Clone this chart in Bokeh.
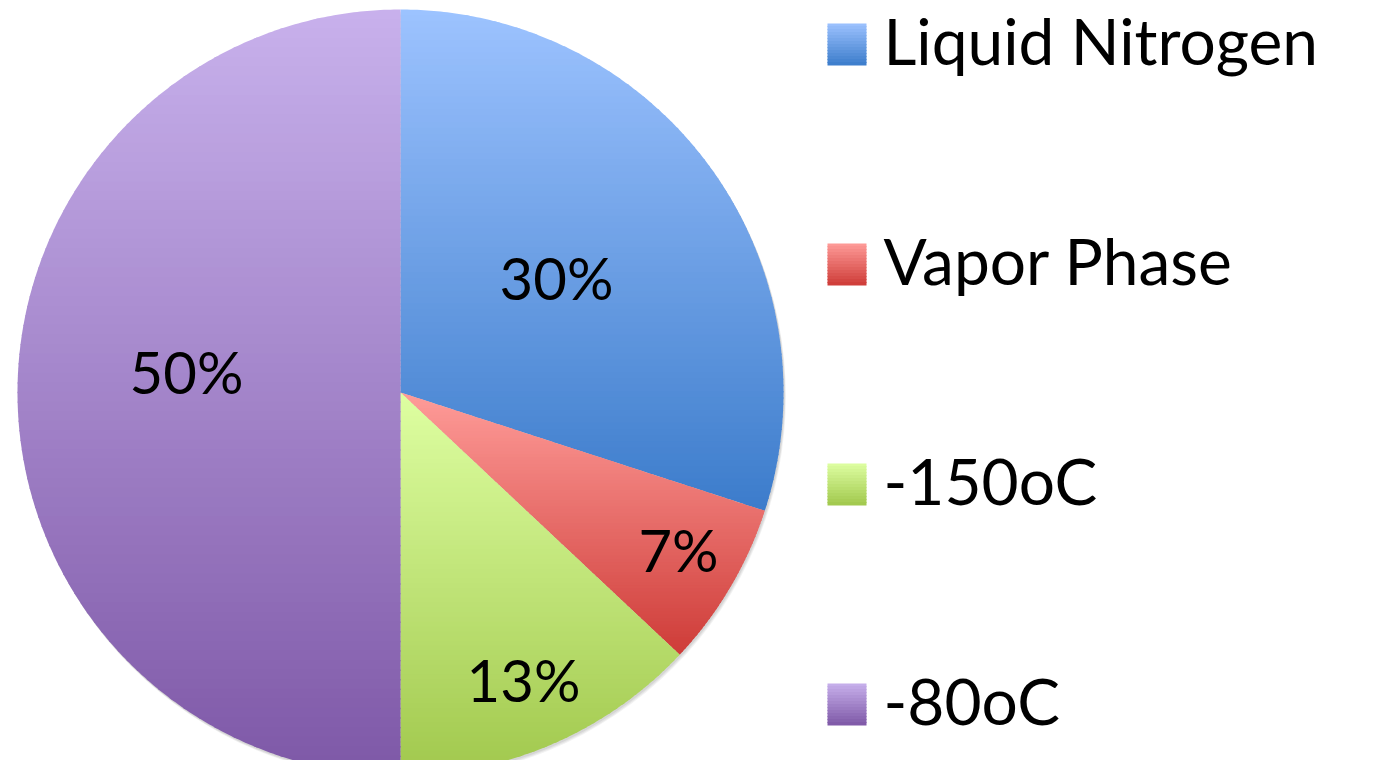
import math
from bokeh.plotting import figure
from bokeh.models import Range1d
from bokeh.core.properties import value
from bokeh.embed import file_html
from bokeh.resources import INLINE

# ---- data ----
categories = ["Liquid Nitrogen", "Vapor Phase", "-150oC", "-80oC"]
shares = [30, 7, 13, 50]
top_colors = ["#9DC3FF", "#FF9C99", "#DEFFA2", "#C8B1EC"]
bottom_colors = ["#3C7CCB", "#CE3C38", "#A1C84D", "#7E58A7"]

# ---- layout (reference pixel space, y downwards) ----
CX, CY, R = 400.0, 392.0, 383.0
FONT = "Lato"
LABEL_PX = 58
LEGEND_PX = 64
label_pos = [(556, 301), (678, 573), (523, 703), (186, 395)]
leg_x0, leg_x1 = 827, 866
leg_tops = [23, 243, 463, 683]
leg_h = 42
leg_text_x = 883
BASE_SHIFT = 0.41  # svg alphabetic baseline correction, in em
NB = 80


def hex2rgb(h):
    h = h.lstrip("#")
    return tuple(int(h[i:i + 2], 16) for i in (0, 2, 4))


def mix(c0, c1, t):
    a, b = hex2rgb(c0), hex2rgb(c1)
    return "#%02x%02x%02x" % tuple(int(round(a[i] + (b[i] - a[i]) * t)) for i in range(3))


def clip_half(poly, yv, keep_above):
    out = []
    n = len(poly)
    for i in range(n):
        p, q = poly[i], poly[(i + 1) % n]
        ip = (p[1] >= yv) if keep_above else (p[1] <= yv)
        iq = (q[1] >= yv) if keep_above else (q[1] <= yv)
        if ip:
            out.append(p)
        if ip != iq:
            t = (yv - p[1]) / (q[1] - p[1])
            out.append((p[0] + t * (q[0] - p[0]), yv))
    return out


p = figure(width=1358, height=760, output_backend="svg", toolbar_location=None,
           x_range=Range1d(0, 1358), y_range=Range1d(760, 0), min_border=0)
p.axis.visible = False
p.grid.visible = False
p.outline_line_color = None
p.background_fill_color = "white"
p.border_fill_color = "white"

# soft shadow
for off, alpha in [(4, 0.10), (3, 0.12), (2, 0.15)]:
    p.circle(x=[CX + off * 0.6], y=[CY + off], radius=R, fill_color="#808080",
             fill_alpha=alpha, line_color=None)

total = float(sum(shares))
start = 0.0
xs_all, ys_all, cols_all = [], [], []
for i, v in enumerate(shares):
    a0 = start / total * 2 * math.pi
    a1 = (start + v) / total * 2 * math.pi
    start += v
    nseg = max(4, int((a1 - a0) / math.radians(0.5)))
    poly = [(CX, CY)]
    for k in range(nseg + 1):
        a = a0 + (a1 - a0) * k / nseg
        poly.append((CX + R * math.sin(a), CY - R * math.cos(a)))
    ymin = min(pt[1] for pt in poly)
    ymax = max(pt[1] for pt in poly)
    for b in range(NB):
        y0 = ymin + (ymax - ymin) * b / NB
        y1 = ymin + (ymax - ymin) * (b + 1) / NB
        band = clip_half(poly, y0 - 0.7, True)
        band = clip_half(band, y1 + 0.7, False)
        if len(band) < 3:
            continue
        xs_all.append([pt[0] for pt in band])
        ys_all.append([pt[1] for pt in band])
        cols_all.append(mix(top_colors[i], bottom_colors[i], (b + 0.5) / NB))

p.patches(xs=xs_all, ys=ys_all, fill_color=cols_all, line_color=None)

# percentage labels
p.text(x=[lp[0] for lp in label_pos],
       y=[lp[1] - BASE_SHIFT * LABEL_PX for lp in label_pos],
       text=[f"{v}%" for v in shares], text_font=value(FONT),
       text_font_size=f"{LABEL_PX}px",
       text_align="center", text_baseline="alphabetic", text_color="black")

# legend swatches with gradient
qt, qb, ql, qr, qc = [], [], [], [], []
NS = 14
for i in range(len(categories)):
    for b in range(NS):
        t0 = leg_tops[i] + leg_h * b / NS
        t1 = leg_tops[i] + leg_h * (b + 1) / NS
        qt.append(t0 - (0 if b == 0 else 0.6))
        qb.append(t1 + (0 if b == NS - 1 else 0.6))
        ql.append(leg_x0)
        qr.append(leg_x1)
        qc.append(mix(top_colors[i], bottom_colors[i], (b + 0.5) / NS))
p.quad(left=ql, right=qr, top=qt, bottom=qb, fill_color=qc, line_color=None)

p.text(x=[leg_text_x] * len(categories),
       y=[t + leg_h + 1 - BASE_SHIFT * LEGEND_PX for t in leg_tops],
       text=categories, text_font=value(FONT), text_font_size=f"{LEGEND_PX}px",
       text_align="left", text_baseline="alphabetic", text_color="black")

open("out.html", "w").write(file_html(p, INLINE))
